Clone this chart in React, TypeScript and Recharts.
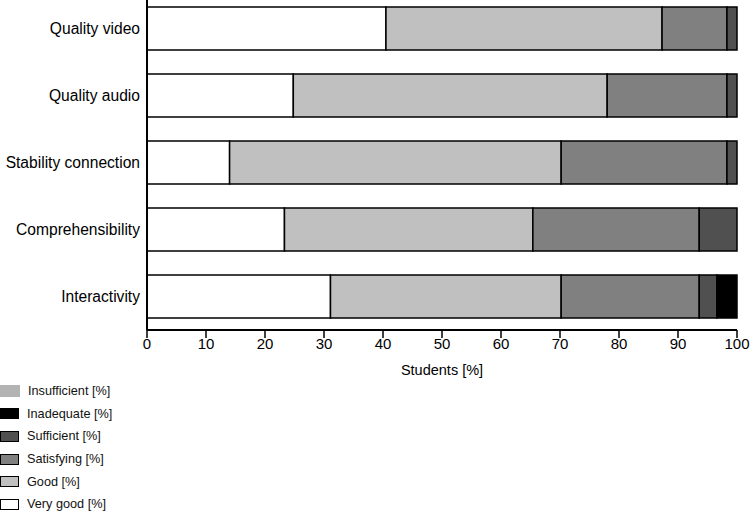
import * as React from "react"
import { Bar, BarChart, Legend, XAxis, YAxis } from "recharts"

const categories = ["Quality video", "Quality audio", "Stability connection", "Comprehensibility", "Interactivity"]

const veryGood = [40.5, 24.8, 14.0, 23.3, 31.1]
const good = [46.8, 53.2, 56.2, 42.1, 39.1]
const satisfying = [11.0, 20.3, 28.1, 28.2, 23.4]
const sufficient = [1.7, 1.7, 1.7, 6.4, 3.0]
const inadequate = [0, 0, 0, 0, 3.4]
const insufficient = [0, 0, 0, 0, 0]

const xTicks = [0, 10, 20, 30, 40, 50, 60, 70, 80, 90, 100]

const series = [
    { key: "veryGood", name: "Very good [%]", fill: "#ffffff", stroke: "#000000" },
    { key: "good", name: "Good [%]", fill: "#c0c0c0", stroke: "#000000" },
    { key: "satisfying", name: "Satisfying [%]", fill: "#808080", stroke: "#000000" },
    { key: "sufficient", name: "Sufficient [%]", fill: "#505050", stroke: "#000000" },
    { key: "inadequate", name: "Inadequate [%]", fill: "#000000", stroke: "#000000" },
    { key: "insufficient", name: "Insufficient [%]", fill: "#b3b3b3", stroke: "none" },
]

const data = categories.map((name, i) => ({
    name,
    veryGood: veryGood[i],
    good: good[i],
    satisfying: satisfying[i],
    sufficient: sufficient[i],
    inadequate: inadequate[i],
    insufficient: insufficient[i],
}))

const font = "'Liberation Sans', Arial, sans-serif"

// legend is listed top to bottom in reverse stacking order
function LegendList() {
    const items = [...series].reverse()
    return (
        <div style={{ fontFamily: font, fontSize: 12.7, color: "#111" }}>
            {items.map(s => (
                <div key={s.key} style={{ height: 22.6, display: "flex", alignItems: "center" }}>
                    <span style={{
                        display: "inline-block",
                        width: s.stroke === "none" ? 20 : 17,
                        height: s.stroke === "none" ? 12 : 9,
                        background: s.fill,
                        border: s.stroke === "none" ? "none" : "1.5px solid #000",
                        marginRight: 8,
                    }} />
                    <span>{s.name}</span>
                </div>
            ))}
        </div>
    )
}

export default function App() {
    return (
        <div style={{ position: "absolute", left: 0, top: 0 }}>
            <BarChart
                width={751}
                height={516}
                data={data}
                layout="vertical"
                margin={{ top: -5, right: 14, bottom: 6, left: 0 }}
                barSize={43}
            >
                <XAxis
                    type="number"
                    domain={[0, 100]}
                    ticks={xTicks}
                    interval={0}
                    height={50}
                    tickSize={8}
                    tickMargin={0}
                    axisLine={{ stroke: "#000", strokeWidth: 2 }}
                    tickLine={{ stroke: "#000", strokeWidth: 1.5 }}
                    tick={{ fill: "#000", fontSize: 15, fontFamily: font }}
                    label={{ value: "Students [%]", position: "insideBottom", offset: 5, fill: "#000", fontSize: 14.5, fontFamily: font }}
                />
                <YAxis
                    type="category"
                    dataKey="name"
                    width={147}
                    tickLine={false}
                    tickSize={5}
                    tickMargin={2}
                    axisLine={{ stroke: "#000", strokeWidth: 2 }}
                    tick={{ fill: "#000", fontSize: 15.6, fontFamily: font }}
                />
                <Legend
                    verticalAlign="bottom"
                    layout="horizontal"
                    content={LegendList}
                    wrapperStyle={{ position: "absolute", left: 0, top: 380, height: 130, width: 200 }}
                />
                {series.map(s => (
                    <Bar
                        key={s.key}
                        dataKey={s.key}
                        name={s.name}
                        stackId="a"
                        fill={s.fill}
                        stroke={s.stroke}
                        strokeWidth={1.5}
                        isAnimationActive={false}
                    />
                ))}
            </BarChart>
        </div>
    )
}
